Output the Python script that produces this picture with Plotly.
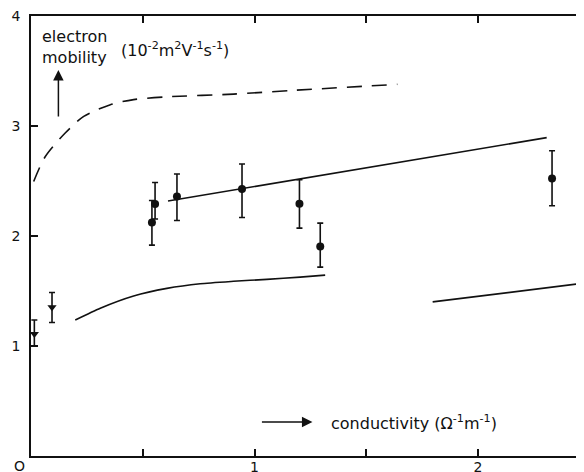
import plotly.graph_objects as go

# Data
circ_x = [0.541, 0.555, 0.653, 0.944, 1.201, 1.294, 2.331]
circ_y = [2.123, 2.290, 2.360, 2.427, 2.293, 1.905, 2.523]
circ_up = [0.20, 0.197, 0.203, 0.227, 0.218, 0.212, 0.252]
circ_dn = [0.206, 0.136, 0.219, 0.259, 0.221, 0.188, 0.248]

tri_x = [0.015, 0.094]
tri_y = [1.11, 1.353]
tri_up = [0.127, 0.133]
tri_dn = [0.11, 0.14]

upper_x = [0.613, 2.307]
upper_y = [2.318, 2.894]

lower_x = [0.198, 0.31, 0.459, 0.608, 0.757, 0.906, 1.055, 1.204, 1.316]
lower_y = [1.237, 1.344, 1.455, 1.524, 1.566, 1.588, 1.606, 1.626, 1.644]

lower2_x = [1.797, 2.474]
lower2_y = [1.401, 1.571]

dash_x = [0.012, 0.064, 0.153, 0.236, 0.355, 0.459, 0.608, 0.906, 1.174, 1.639]
dash_y = [2.496, 2.723, 2.936, 3.087, 3.194, 3.240, 3.265, 3.290, 3.324, 3.379]

x_ticks = [0, 0.5, 1, 1.5, 2]
x_labels = ["", "", "1", "", "2"]
y_ticks = [0, 1, 2, 3, 4]
y_labels = ["", "1", "2", "3", "4"]

FONT = "DejaVu Sans"
BLACK = "#111111"

fig = go.Figure()

line_style = dict(color=BLACK, width=1.6)
fig.add_trace(go.Scatter(x=dash_x, y=dash_y, mode="lines",
                         line=dict(color=BLACK, width=1.6, dash="15px,10px",
                                   shape="spline", smoothing=0.8)))
fig.add_trace(go.Scatter(x=upper_x, y=upper_y, mode="lines", line=line_style))
fig.add_trace(go.Scatter(x=lower_x, y=lower_y, mode="lines",
                         line=dict(color=BLACK, width=1.6, shape="spline", smoothing=0.6)))
fig.add_trace(go.Scatter(x=lower2_x, y=lower2_y, mode="lines", line=line_style))

err_style = dict(color=BLACK, thickness=1.6, width=3)
fig.add_trace(go.Scatter(x=circ_x, y=circ_y, mode="markers",
                         marker=dict(symbol="circle", size=8, color=BLACK),
                         error_y=dict(type="data", symmetric=False, array=circ_up,
                                      arrayminus=circ_dn, **err_style)))
fig.add_trace(go.Scatter(x=tri_x, y=tri_y, mode="markers",
                         marker=dict(symbol="triangle-down", size=8, color=BLACK),
                         error_y=dict(type="data", symmetric=False, array=tri_up,
                                      arrayminus=tri_dn, **err_style)))
# dummy trace for right-side ticks
fig.add_trace(go.Scatter(x=[None], y=[None], yaxis="y2", showlegend=False))

tickfont = dict(family=FONT, size=14, color=BLACK)
fig.update_layout(
    width=584, height=472,
    margin=dict(l=23, r=8, t=8, b=24),
    paper_bgcolor="white", plot_bgcolor="white",
    showlegend=False,
    xaxis=dict(range=[0, 2.474], tickvals=x_ticks, ticktext=x_labels,
               ticks="inside", ticklen=7, tickwidth=1.5, tickcolor=BLACK,
               showline=True, linecolor=BLACK, linewidth=1.8, mirror="ticks",
               showgrid=False, zeroline=False, tickfont=tickfont,
               automargin=False, ticklabelstandoff=-3, ticklabeloverflow="allow"),
    yaxis=dict(range=[0, 4], tickvals=y_ticks, ticktext=y_labels,
               ticks="inside", ticklen=7, tickwidth=1.5, tickcolor=BLACK,
               showline=True, linecolor=BLACK, linewidth=1.8, mirror=False,
               showgrid=False, zeroline=False, tickfont=tickfont,
               automargin=False, ticklabelstandoff=6, ticklabeloverflow="allow"),
    yaxis2=dict(range=[0, 4], overlaying="y", side="right", tickvals=y_ticks,
                showticklabels=False, ticks="inside", ticklen=6, tickwidth=1.5,
                tickcolor=BLACK, showline=False, showgrid=False, zeroline=False,
                automargin=False),
    font=dict(family=FONT, size=16, color=BLACK),
)

txt = dict(family=FONT, size=16, color=BLACK)
fig.add_annotation(x=0.04, y=3.72, xref="x", yref="y", text="electron<br>mobility",
                   showarrow=False, xanchor="left", yanchor="middle", align="left", font=txt)
fig.add_annotation(x=0.392, y=3.70, xref="x", yref="y",
                   text="(10<sup>-2</sup>m<sup>2</sup>V<sup>-1</sup>s<sup>-1</sup>)",
                   showarrow=False, xanchor="left", yanchor="middle", font=txt)
fig.add_annotation(x=1.332, y=0.309, xref="x", yref="y",
                   text="conductivity (\u03a9<sup>-1</sup>m<sup>-1</sup>)",
                   showarrow=False, xanchor="left", yanchor="middle", font=txt)
# arrows
fig.add_annotation(x=0.1226, y=3.51, xref="x", yref="y", ax=0, ay=48, text="",
                   showarrow=True, arrowhead=2, arrowsize=1.4, arrowwidth=1.5, arrowcolor=BLACK)
fig.add_annotation(x=1.259, y=0.309, xref="x", yref="y", ax=-52, ay=0, text="",
                   showarrow=True, arrowhead=2, arrowsize=1.4, arrowwidth=1.5, arrowcolor=BLACK)
# origin label
fig.add_annotation(x=-0.0199, y=-0.0227, xref="paper", yref="paper", text="O",
                   showarrow=False, xanchor="center", yanchor="middle", font=tickfont)

fig.write_html("out.html")
